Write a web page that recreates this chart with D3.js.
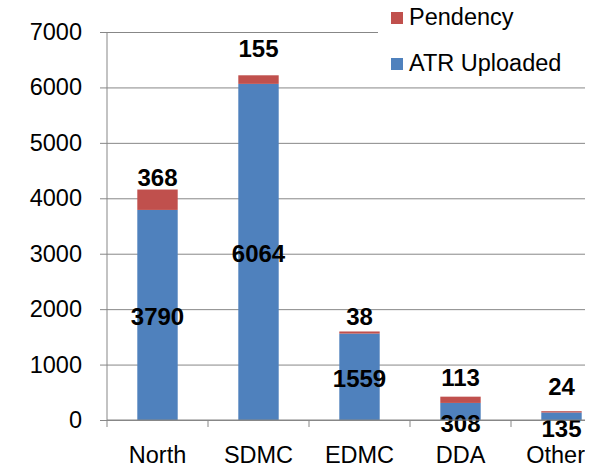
<!DOCTYPE html>
<html>
<head>
  <meta charset="utf-8">
  <script src="https://d3js.org/d3.v7.min.js"></script>
  <style>
    body { margin: 0; background: #fff; }
    svg { display: block; font-family: "Liberation Sans", Arial, sans-serif; }
    .axis text { font-size: 23.5px; fill: #000; }
    .val { font-size: 24px; font-weight: bold; fill: #000; }
  </style>
</head>
<body>
  <div id="chart"></div>
  <script>
    // values
    var categories = ["North", "SDMC", "EDMC", "DDA", "Others"];
    var atrUploaded = [3790, 6064, 1559, 308, 135];
    var pendency = [368, 155, 38, 113, 24];
    var yTicks = [0, 1000, 2000, 3000, 4000, 5000, 6000, 7000];

    // hand-placed label nudges (px) as in the original
    var pendLift = [12, 27, 15, 19, 25];
    var atrDrop = [2, 2, 2, 12, 12];

    var W = 600, H = 467;
    var blue = "#4f81bd", red = "#c0504d", grid = "#878787";

    var svg = d3.select("#chart").append("svg")
                .attr("width", W)
                .attr("height", H);

    svg.append("clipPath").attr("id", "cut")
       .append("rect").attr("x", 0).attr("y", 0).attr("width", 585).attr("height", H);

    var g = svg.append("g").attr("clip-path", "url(#cut)");

    var x = d3.scaleBand()
              .domain(categories)
              .range([107, 612])
              .paddingInner(0.6)
              .paddingOuter(0.3);

    var y = d3.scaleLinear()
              .domain([0, 7000])
              .range([420, 32]);

    /* gridlines + y labels */
    var yAxis = g.append("g").attr("class", "axis")
                 .attr("transform", "translate(107,0)")
                 .call(d3.axisLeft(y).tickValues(yTicks).tickSize(7).tickPadding(18)
                         .tickFormat(d3.format("d")));
    yAxis.select(".domain").remove();
    yAxis.selectAll(".tick line").attr("stroke", grid);
    yAxis.selectAll(".tick").append("line")
         .attr("x1", 0).attr("x2", 500)
         .attr("stroke", grid);

    /* bars */
    var rows = categories.map(function(c, i) {
      return { cat: c, atr: atrUploaded[i], pend: pendency[i], i: i };
    });

    var bars = g.append("g").selectAll("g")
                .data(rows)
                .enter().append("g");

    bars.append("rect")
        .attr("x", function(d) { return x(d.cat); })
        .attr("width", x.bandwidth())
        .attr("y", function(d) { return y(d.atr); })
        .attr("height", function(d) { return y(0) - y(d.atr); })
        .attr("fill", blue);

    bars.append("rect")
        .attr("x", function(d) { return x(d.cat); })
        .attr("width", x.bandwidth())
        .attr("y", function(d) { return y(d.atr + d.pend); })
        .attr("height", function(d) { return y(d.atr) - y(d.atr + d.pend); })
        .attr("fill", red);

    /* x axis */
    var xAxis = g.append("g").attr("class", "axis")
                 .attr("transform", "translate(0,420)");
    xAxis.append("line")
         .attr("x1", 107).attr("x2", 612)
         .attr("stroke", grid);
    var step = x.step();
    xAxis.selectAll("line.tk")
         .data(d3.range(categories.length + 1))
         .enter().append("line")
         .attr("class", "tk")
         .attr("x1", function(k) { return 107 + k * step; })
         .attr("x2", function(k) { return 107 + k * step; })
         .attr("y1", 0).attr("y2", 7)
         .attr("stroke", grid);
    xAxis.append("line")
         .attr("x1", 107).attr("x2", 107)
         .attr("y1", -388).attr("y2", 0)
         .attr("stroke", grid);
    xAxis.selectAll("text")
         .data(categories)
         .enter().append("text")
         .attr("x", function(d) { return x(d) + x.bandwidth() / 2; })
         .attr("y", 43)
         .attr("text-anchor", "middle")
         .text(function(d) { return d; });

    /* value labels */
    bars.append("text")
        .attr("class", "val")
        .attr("text-anchor", "middle")
        .attr("x", function(d) { return x(d.cat) + x.bandwidth() / 2; })
        .attr("y", function(d) {
          return (y(0) + y(d.atr)) / 2 + atrDrop[d.i] + 8.5;
        })
        .text(function(d) { return d.atr; });

    bars.append("text")
        .attr("class", "val")
        .attr("text-anchor", "middle")
        .attr("x", function(d) { return x(d.cat) + x.bandwidth() / 2; })
        .attr("y", function(d) {
          return y(d.atr + d.pend) - pendLift[d.i] + 8.5;
        })
        .text(function(d) { return d.pend; });

    /* legend */
    var leg = svg.append("g").attr("class", "axis");
    leg.append("rect")
       .attr("x", 378).attr("y", 0).attr("width", 222).attr("height", 80)
       .attr("fill", "#fff");
    var items = [{ name: "Pendency", color: red }, { name: "ATR Uploaded", color: blue }];
    var li = leg.selectAll("g.item")
                .data(items)
                .enter().append("g")
                .attr("class", "item")
                .attr("transform", function(d, i) { return "translate(391," + (12 + i * 46) + ")"; });
    li.append("rect")
      .attr("width", 12).attr("height", 12)
      .attr("fill", function(d) { return d.color; });
    li.append("text")
      .attr("x", 18).attr("y", 13)
      .text(function(d) { return d.name; });
  </script>
</body>
</html>
